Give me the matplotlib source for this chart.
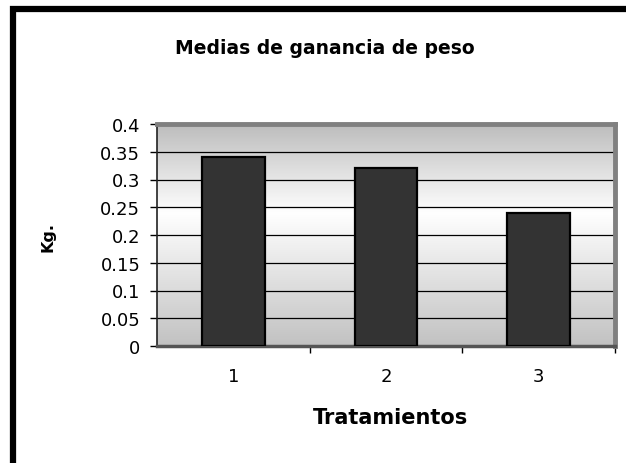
import matplotlib
matplotlib.use("Agg")
import matplotlib.pyplot as plt
import numpy as np
from matplotlib.patches import Rectangle

categories = ["1", "2", "3"]
values = [0.34, 0.32, 0.24]
yticks = [0, 0.05, 0.1, 0.15, 0.2, 0.25, 0.3, 0.35, 0.4]
ytick_labels = ["0", "0.05", "0.1", "0.15", "0.2", "0.25", "0.3", "0.35", "0.4"]
title = "Medias de ganancia de peso"
xlabel = "Tratamientos"
ylabel = "Kg."

plt.rcParams['font.family'] = ['DejaVu Sans']
W, H = 626, 464
fig = plt.figure(figsize=(W/100, H/100), dpi=100)
fig.patch.set_facecolor("white")

ax = fig.add_axes([157/W, 1-347/H, (615-157)/W, (347-125)/H])
x = np.arange(1, len(categories)+1)

# gradient background
t = np.linspace(0, 1, 256)
g = np.interp(t, [0, 0.6, 1.0], [0.76, 1.0, 0.74])
img = np.repeat(np.repeat(g[:, None, None], 2, axis=1), 3, axis=2)
ax.imshow(img, extent=[0.5, 3.5, 0, 0.4], origin="lower", aspect="auto", zorder=0,
          interpolation="bilinear")

for yv in yticks[1:-1]:
    ax.axhline(yv, color="black", lw=0.9, zorder=1)

ax.bar(x, values, width=0.41, color="#333333", edgecolor="black", linewidth=1.6, zorder=3)

ax.set_xlim(0.5, 3.5)
ax.set_ylim(0, 0.4)
ax.set_yticks(yticks)
ax.set_yticklabels(ytick_labels, fontsize=13)
ax.set_xticks(x)
ax.set_xticklabels(categories, fontsize=13)
ax.tick_params(axis="x", which="major", length=0, pad=15)
ax.set_xticks([1.5, 2.5, 3.5], minor=True)
ax.tick_params(axis="x", which="minor", length=5, width=1, direction="out")
ax.tick_params(axis="y", length=5, width=1, direction="out", pad=7)

for s in ["top", "right"]:
    ax.spines[s].set_color("#808080")
    ax.spines[s].set_linewidth(3.5)
ax.spines["left"].set_color("#222222")
ax.spines["left"].set_linewidth(1.2)
ax.spines["bottom"].set_color("#555555")
ax.spines["bottom"].set_linewidth(2.5)

fig.text(325/W, 1-48/H, title, ha="center", va="center", fontsize=13.5, fontweight="bold")
fig.text(391/W, 1-418/H, xlabel, ha="center", va="center", fontsize=15, fontweight="bold")
fig.text(48/W, 1-237/H, ylabel, ha="center", va="center", fontsize=11.5, fontweight="bold",
         rotation=90)

# outer frame
fig.patches.append(Rectangle((13/W, -0.2), 1.2, 1-10/H+0.2, transform=fig.transFigure,
                             fill=False, edgecolor="black", linewidth=4.5, clip_on=False))

fig.savefig("out.png", dpi=100)
